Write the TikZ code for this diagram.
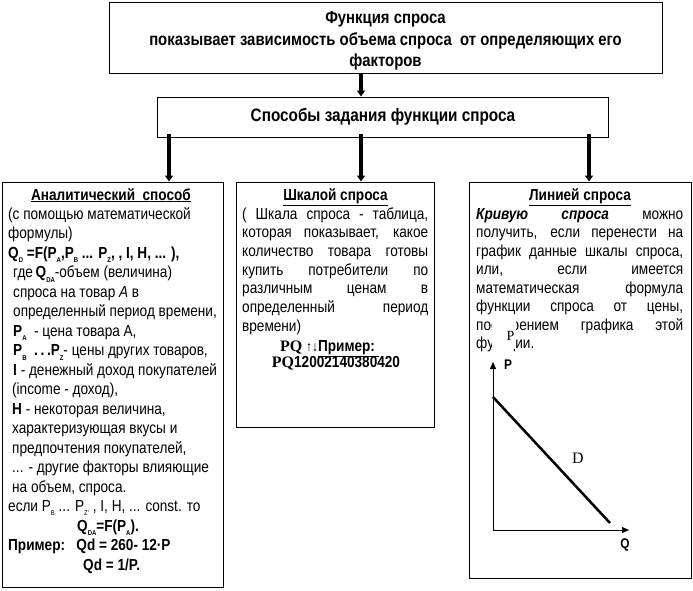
\documentclass[tikz,border=0pt]{standalone}
\usepackage{fontspec}
\setmainfont{Liberation Sans}[FakeStretch=0.85]
\newfontfamily\seriffam{Liberation Serif}
\usetikzlibrary{arrows.meta}
\newcommand\lsub[1]{\raisebox{-0.5ex}{\fontsize{7}{7}\selectfont #1}}
\newcommand\jm[1]{\makebox[186pt][s]{#1}}
\newcommand\jr[1]{\makebox[207pt][s]{#1}}
\begin{document}
\begin{tikzpicture}[x=1pt,y=-1pt,
  box/.style={draw, line width=1pt, inner sep=0pt},
  txt/.style={inner sep=0pt, anchor=base west, font=\fontsize{16}{19}\selectfont},
  ctxt/.style={inner sep=0pt, anchor=base, font=\fontsize{16}{19}\selectfont},
  bigarrow/.style={line width=3.5pt, -{Triangle[width=8pt,length=6pt]}},
  axisarrow/.style={line width=1pt, -{Triangle[width=6pt,length=7pt]}}]
\useasboundingbox (0,0) rectangle (693,590);
% boxes
\node[box, minimum width=553pt, minimum height=71pt] (top) at (385.5,37.5) {};
\node[box, minimum width=451pt, minimum height=40pt] (mid) at (382.5,117) {};
\node[box, minimum width=221pt, minimum height=405pt] (lbox) at (112.5,384.5) {};
\node[box, minimum width=198pt, minimum height=245pt] (cbox) at (335,304.5) {};
\node[box, minimum width=222pt, minimum height=396pt] (rbox) at (580,380) {};
% header texts
\node[inner sep=0pt, align=center, font=\bfseries\fontsize{17.5}{21.5}\selectfont] (toptxt) at (385.5,41)
  {Функция спроса\\показывает зависимость объема спроса\ \ от определяющих его\\факторов};
\node[inner sep=0pt, font=\bfseries\fontsize{18}{20}\selectfont] (midtxt) at (383,117) {Способы задания функции спроса};
% arrows
\coordinate (c0) at (361,0);
\coordinate (c1) at (169,0);
\coordinate (c2) at (361,0);
\coordinate (c3) at (589,0);
\draw[bigarrow] (top.south -| c0) -- (mid.north -| c0);
\draw[bigarrow, shorten <=-4pt] (mid.south -| c1) -- (lbox.north -| c1);
\draw[bigarrow, shorten <=-4pt] (mid.south -| c2) -- (cbox.north -| c2);
\draw[bigarrow, shorten <=-4pt] (mid.south -| c3) -- (rbox.north -| c3);
% left box
\node[ctxt] (l1) at (111,200) {\bfseries\underline{Аналитический\ \ способ}};
\node[txt] (l2) at (8,219.5) {(с помощью математической};
\node[txt] (l3) at (8,238.9) {формулы)};
\node[txt] (l4) at (8,258.4) {\bfseries Q\lsub{D} =F(P\lsub{A},P\lsub{B} ... P\lsub{Z}, , I, H, ... ),};
\node[txt] (l5) at (13,277.9) {где\,\textbf{Q\lsub{DA}}-объем (величина)};
\node[txt] (l6) at (13,297.4) {спроса на товар \textit{A} в};
\node[txt] (l7) at (13,316.8) {определенный период времени,};
\node[txt] (l8) at (13,336.3) {\textbf{P\lsub{A}}\ \ - цена товара А,};
\node[txt] (l9) at (13,355.8) {\textbf{P\lsub{B}\ \ .\,.\,.P\lsub{Z}}- цены других товаров,};
\node[txt] (l10) at (13,375.2) {\textbf{I} - денежный доход покупателей};
\node[txt] (l11) at (12,394.7) {(income - доход),};
\node[txt] (l12) at (12,414.2) {\textbf{H} - некоторая величина,};
\node[txt] (l13) at (12,433.6) {характеризующая вкусы и};
\node[txt] (l14) at (12,453.1) {предпочтения покупателей,};
\node[txt] (l15) at (12,472.6) {... - другие факторы влияющие};
\node[txt] (l16) at (12,492.1) {на объем, спроса.};
\node[txt] (l17) at (8,511.5) {если P\lsub{B} ... P\lsub{Z'}\ , I, H, ... const. то};
\node[ctxt] (l18) at (108,531) {\bfseries Q\lsub{DA}=F(P\lsub{A}).};
\node[txt] (l19) at (8,550.5) {\bfseries Пример:\ \ \ Qd = 260- 12·P};
\node[txt] (l20) at (83,570) {\bfseries Qd = 1/P.};
% middle box
\node[ctxt] (m0) at (335.5,200) {\bfseries\underline{Шкалой спроса}};
\node[txt] (m1) at (242,219) {\jm{( Шкала спроса - таблица,}};
\node[txt] (m2) at (242,237.7) {\jm{которая показывает, какое}};
\node[txt] (m3) at (242,256.4) {\jm{количество товара готовы}};
\node[txt] (m4) at (242,275.1) {\jm{купить потребители по}};
\node[txt] (m5) at (242,293.8) {\jm{различным ценам в}};
\node[txt] (m6) at (242,312.5) {\jm{определенный период}};
\node[txt] (m7) at (242,331.2) {времени)};
\node[ctxt] (m8) at (329.5,351) {{\seriffam\bfseries PQ} {\fontsize{14}{14}\selectfont ↑↓}\textbf{\underline{Пример:\ }}};
\node[ctxt] (m9) at (336,367) {{\seriffam\bfseries PQ}\textbf{12002140380420}};
% right box
\node[ctxt] (r0) at (580,200) {\bfseries\underline{Линией спроса}};
\node[txt] (r1) at (476,219) {\jr{\textbf{\textit{Кривую}} \textbf{\textit{спроса}} можно}};
\node[txt] (r2) at (476,237.5) {\jr{получить, если перенести на}};
\node[txt] (r3) at (476,256) {\jr{график данные шкалы спроса,}};
\node[txt] (r4) at (476,274.5) {\jr{или, если имеется}};
\node[txt] (r5) at (476,293) {\jr{математическая формула}};
\node[txt] (r6) at (476,311.5) {\jr{функции спроса от цены,}};
\node[txt] (r7) at (476,330) {\jr{построением графика этой}};
\node[txt] (r8) at (476,348.5) {функции.};
\node[fill=white, inner sep=0pt, minimum width=24pt, minimum height=32pt] (pbg) at (503.5,333) {};
\node[anchor=base, inner sep=0pt, font=\seriffam\fontsize{14}{14}\selectfont] (pover) at (510.5,340) {P};
% graph
\coordinate (O) at (493,530);
\coordinate (Ytop) at (493,362);
\coordinate (Xend) at (629,530);
\coordinate (D1) at (493,397);
\coordinate (D2) at (610,523);
\draw[axisarrow] (O) -- (Ytop);
\draw[axisarrow] (O) -- (Xend);
\draw[line width=2.5pt] (D1) -- (D2);
\node[inner sep=0pt, font=\bfseries\fontsize{14}{14}\selectfont] (plab) at (508,365) {P};
\node[inner sep=0pt, font=\bfseries\fontsize{14}{14}\selectfont] (qlab) at (625,545) {Q};
\node[inner sep=0pt, font=\seriffam\fontsize{16}{16}\selectfont] (dlab) at (578,458) {D};
\end{tikzpicture}
\end{document}
